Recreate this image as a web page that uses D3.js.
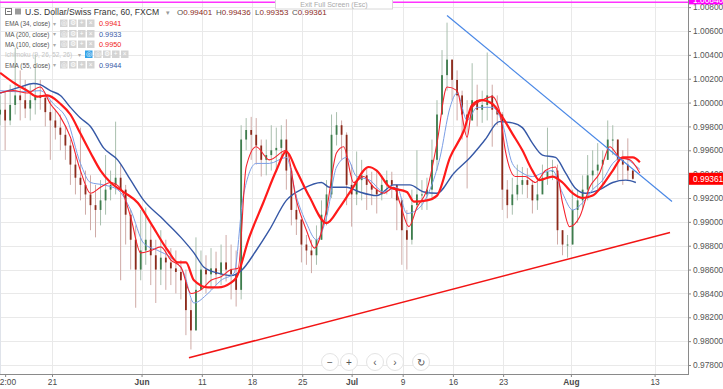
<!DOCTYPE html>
<html>
<head>
<meta charset="utf-8">
<script src="https://cdn.jsdelivr.net/npm/d3@7"></script>
<style>
  body { margin: 0; background: #fff; overflow: hidden; }
  svg { display: block; font-family: Arial, "Liberation Sans", sans-serif; }
</style>
</head>
<body>
<svg id="chart" width="723" height="389"></svg>
<script>
// USD/CHF, FXCM. One candle per 12 trading hours, first one 124 trading hours before May 21.
const firstHour = -124
const slotHours = 12
const firstOpen = 0.9990

const closes = [
  0.9994, 0.9985, 0.9998, 1.0006, 1.0002, 0.9995, 1.0002, 1.0006, 1.0004, 0.9992,
  0.9985, 0.9979, 0.9973, 0.9964, 0.9948, 0.9937, 0.9931, 0.9923, 0.9914, 0.9910,
  0.9918, 0.9927, 0.9931, 0.9937, 0.9927, 0.9906, 0.9885, 0.9860, 0.9876, 0.9885,
  0.9872, 0.9860, 0.9870, 0.9866, 0.9861, 0.9858, 0.9851, 0.9826, 0.9809, 0.9843,
  0.9860, 0.9856, 0.9861, 0.9856, 0.9866, 0.9860, 0.9856, 0.9843, 0.9969, 0.9977,
  0.9973, 0.9964, 0.9952, 0.9956, 0.9960, 0.9962, 0.9969, 0.9943, 0.9910, 0.9902,
  0.9881, 0.9876, 0.9872, 0.9885, 0.9906, 0.9923, 0.9973, 0.9981, 0.9973, 0.9931,
  0.9923, 0.9935, 0.9939, 0.9931, 0.9927, 0.9923, 0.9931, 0.9935, 0.9931, 0.9918,
  0.9893, 0.9885, 0.9914, 0.9923, 0.9923, 0.9927, 0.9952, 0.9990, 1.0023, 1.0036,
  1.0019, 1.0006, 0.9990, 0.9985, 1.0002, 0.9994, 0.9998, 1.0006, 0.9994, 0.9990,
  0.9927, 0.9914, 0.9923, 0.9931, 0.9935, 0.9931, 0.9918, 0.9923, 0.9937, 0.9942,
  0.9943, 0.9893, 0.9881, 0.9881, 0.9910, 0.9918, 0.9927, 0.9939, 0.9943, 0.9948,
  0.9952, 0.9969, 0.9969, 0.9952, 0.9948, 0.9943, 0.99361
]
const highs = [
  1.0006, 1.0010, 1.0015, 1.0046, 1.0027, 1.0019, 1.0015, 1.0040, 1.0019, 1.0006,
  1.0002, 0.9994, 0.9990, 0.9981, 0.9969, 0.9956, 0.9979, 0.9943, 0.9939, 0.9931,
  0.9935, 0.9956, 0.9943, 0.9984, 0.9948, 0.9931, 0.9910, 0.9897, 0.9910, 0.9912,
  0.9897, 0.9885, 0.9893, 0.9885, 0.9878, 0.9876, 0.9868, 0.9860, 0.9835, 0.9887,
  0.9876, 0.9872, 0.9878, 0.9875, 0.9881, 0.9889, 0.9881, 0.9876, 0.9981, 0.9987,
  0.9988, 0.9987, 0.9969, 0.9969, 0.9981, 0.9979, 0.9981, 0.9986, 0.9945, 0.9923,
  0.9902, 0.9889, 0.9885, 0.9897, 0.9918, 0.9935, 0.9990, 0.9992, 0.9985, 0.9975,
  0.9948, 0.9959, 0.9952, 0.9945, 0.9942, 0.9943, 0.9939, 0.9943, 0.9942, 0.9931,
  0.9920, 0.9910, 0.9927, 0.9960, 0.9935, 0.9937, 0.9969, 1.0002, 1.0044, 1.0067,
  1.0036, 1.0027, 1.0010, 1.0002, 1.0033, 1.0015, 1.0010, 1.0042, 1.0015, 1.0006,
  0.9992, 0.9935, 0.9937, 0.9948, 0.9946, 0.9945, 0.9935, 0.9935, 0.9948, 0.9979,
  0.9952, 0.9948, 0.9893, 0.9889, 0.9927, 0.9927, 0.9939, 0.9956, 0.9960, 0.9966,
  0.9960, 0.9985, 0.9981, 0.9969, 0.9960, 0.9970, 0.99436
]
const lows = [
  0.9981, 0.9960, 0.9981, 0.9990, 0.9985, 0.9987, 0.9985, 0.9990, 0.9994, 0.9980,
  0.9952, 0.9969, 0.9960, 0.9952, 0.9931, 0.9923, 0.9918, 0.9906, 0.9893, 0.9887,
  0.9897, 0.9906, 0.9918, 0.9923, 0.9851, 0.9881, 0.9860, 0.9828, 0.9851, 0.9864,
  0.9847, 0.9832, 0.9847, 0.9843, 0.9847, 0.9840, 0.9835, 0.9805, 0.9793, 0.9809,
  0.9843, 0.9840, 0.9843, 0.9847, 0.9847, 0.9850, 0.9835, 0.9829, 0.9835, 0.9960,
  0.9952, 0.9948, 0.9938, 0.9939, 0.9943, 0.9942, 0.9952, 0.9927, 0.9897, 0.9889,
  0.9866, 0.9864, 0.9857, 0.9864, 0.9885, 0.9897, 0.9920, 0.9964, 0.9952, 0.9914,
  0.9896, 0.9914, 0.9918, 0.9910, 0.9914, 0.9907, 0.9918, 0.9923, 0.9920, 0.9893,
  0.9864, 0.9860, 0.9881, 0.9910, 0.9910, 0.9910, 0.9918, 0.9943, 0.9990, 1.0010,
  1.0002, 0.9985, 0.9969, 0.9928, 0.9985, 0.9980, 0.9983, 0.9985, 0.9963, 0.9981,
  0.9910, 0.9903, 0.9906, 0.9918, 0.9923, 0.9920, 0.9907, 0.9910, 0.9927, 0.9931,
  0.9935, 0.9881, 0.9872, 0.9870, 0.9881, 0.9899, 0.9910, 0.9918, 0.9927, 0.9927,
  0.9929, 0.9952, 0.9956, 0.9935, 0.9931, 0.9935, 0.99353
]

// indicator lines: position in candle slots, value
const ma200At = [0, 4, 6.6, 8, 10, 12, 14, 16, 18, 20.6, 23.4, 26, 28.6, 32, 36, 38.6, 40.6, 43.4, 46, 48, 51, 53.6, 57, 60.4, 64, 65.6, 69, 71.6, 75, 78.4, 81.6, 84.4, 87, 90.4, 93.6, 96.6, 99.4, 102, 104, 106, 108, 110.6, 112.6, 114.6, 116.6, 119.4, 122, 124.6, 126.6]
const ma200 = [1.0008, 1.0013, 1.0016, 1.0015, 1.0010, 1.0006, 0.9996, 0.9987, 0.9980, 0.9962, 0.9952, 0.9935, 0.9918, 0.9904, 0.9887, 0.9874, 0.9862, 0.9857, 0.9855, 0.9859, 0.9876, 0.9893, 0.9918, 0.9928, 0.9933, 0.9929, 0.9929, 0.9925, 0.9922, 0.9931, 0.9931, 0.9925, 0.9924, 0.9941, 0.9954, 0.9969, 0.9984, 0.9983, 0.9979, 0.9966, 0.9956, 0.9954, 0.9941, 0.9928, 0.9924, 0.9927, 0.9933, 0.9935, 0.9933]

const ma100At = [0, 2.6, 5.4, 7.4, 9.4, 12, 14, 16, 18, 20, 22, 24.6, 27.4, 30, 33.4, 35.4, 37, 38.6, 41.4, 43.4, 46, 47, 49.6, 52.4, 55, 57, 59, 61.6, 65, 67.6, 70, 73.4, 75, 77.6, 81, 82.4, 85, 87, 89.6, 92.4, 94, 96, 98, 100, 102, 104, 106, 107.4, 110, 112, 114, 116, 118, 120, 122, 124, 126, 127.4]
const ma100 = [1.0025, 1.0017, 1.0010, 1.0005, 1.0006, 0.9999, 0.9990, 0.9974, 0.9958, 0.9943, 0.9933, 0.9925, 0.9916, 0.9899, 0.9876, 0.9866, 0.9866, 0.9851, 0.9845, 0.9845, 0.9849, 0.9853, 0.9887, 0.9916, 0.9943, 0.9959, 0.9943, 0.9921, 0.9899, 0.9912, 0.9927, 0.9946, 0.9943, 0.9929, 0.9925, 0.9917, 0.9918, 0.9922, 0.9954, 0.9977, 0.9998, 1.0002, 0.9999, 0.9988, 0.9974, 0.9960, 0.9943, 0.9935, 0.9938, 0.9933, 0.9924, 0.9920, 0.9922, 0.9931, 0.9943, 0.9954, 0.9954, 0.9950]

const ema34At = [0, 2.6, 5.4, 8, 10, 12, 14, 16, 18, 20, 22, 24, 26, 28, 30, 32, 34, 36, 38, 40, 42, 44, 46, 47.4, 49, 51, 53.6, 57, 59, 61, 62.6, 65, 67, 68.4, 70.4, 72.4, 74.4, 76.4, 78.4, 79.6, 81.4, 83, 85, 87, 89, 91, 93, 94, 96, 98, 99.4, 100.6, 102.6, 104.6, 106.6, 108.6, 110.6, 112, 113.4, 115.4, 117.4, 119.4, 121.4, 123.4, 125.4, 127.4]
const ema34 = [1.0008, 1.0010, 1.0008, 1.0013, 0.9999, 0.9988, 0.9971, 0.9943, 0.9924, 0.9929, 0.9933, 0.9928, 0.9904, 0.9874, 0.9876, 0.9879, 0.9868, 0.9862, 0.9840, 0.9843, 0.9851, 0.9854, 0.9860, 0.9861, 0.9946, 0.9963, 0.9952, 0.9960, 0.9918, 0.9893, 0.9878, 0.9910, 0.9958, 0.9963, 0.9933, 0.9938, 0.9929, 0.9924, 0.9929, 0.9916, 0.9896, 0.9912, 0.9927, 0.9966, 1.0013, 1.0010, 0.9971, 0.9996, 1.0002, 1.0005, 0.9994, 0.9960, 0.9938, 0.9938, 0.9933, 0.9943, 0.9946, 0.9916, 0.9896, 0.9904, 0.9929, 0.9941, 0.9963, 0.9954, 0.9952, 0.9941]

const ema55At = [0, 4, 8, 10.6, 13.4, 16, 18, 20.6, 23.4, 26, 28.6, 31.4, 34, 36.6, 38.6, 41.4, 44, 46.6, 48.4, 51, 53.6, 57, 59, 61, 63, 65, 67, 69, 71, 73.6, 76.4, 79, 81, 83, 85.6, 87.6, 89.6, 91, 93, 95, 98, 100, 102, 104, 106, 108, 110, 112, 114, 116, 118, 120, 122, 124, 126, 127.4]
const ema55 = [1.0010, 1.0009, 1.0010, 0.9999, 0.9985, 0.9949, 0.9933, 0.9931, 0.9927, 0.9910, 0.9882, 0.9876, 0.9870, 0.9857, 0.9832, 0.9840, 0.9851, 0.9857, 0.9921, 0.9949, 0.9949, 0.9954, 0.9921, 0.9899, 0.9885, 0.9904, 0.9946, 0.9954, 0.9938, 0.9935, 0.9925, 0.9929, 0.9907, 0.9910, 0.9927, 0.9954, 0.9996, 1.0008, 0.9985, 0.9996, 0.9996, 0.9983, 0.9949, 0.9941, 0.9938, 0.9941, 0.9943, 0.9924, 0.9910, 0.9916, 0.9927, 0.9935, 0.9949, 0.9954, 0.9949, 0.9944]

// hand drawn trend lines: [slot, price] end points
const resistanceLine = [[89, 1.0073], [133.8, 0.9917]]
const supportLine = [[37.6, 0.9786], [133.4, 0.9891]]
const alertPrice = 1.0084

const priceTicks = [0.978, 0.980, 0.982, 0.984, 0.986, 0.988, 0.990, 0.992, 0.994, 0.996, 0.998, 1.000, 1.002, 1.004, 1.006, 1.008]
const timeTickLabels = ['12:00', '21', 'Jun', '11', '18', '25', 'Jul', '9', '16', '23', 'Aug', '13']
const timeTickHours = [-112, 0, 214, 358, 478, 598, 716, 838, 958, 1078, 1240, 1440]
const monthLabels = ['Jun', 'Jul', 'Aug']

const legendRows = [
  { name: 'EMA (34, close)', value: '0.9941', color: '#f01d1d' },
  { name: 'MA (200, close)', value: '0.9933', color: '#3658a6' },
  { name: 'MA (100, close)', value: '0.9950', color: '#f01d1d' },
  { name: 'Ichimoku (9, 26, 52, 26)', value: '', color: '#ccc', hidden: true },
  { name: 'EMA (55, close)', value: '0.9944', color: '#3658a6' }
]
const ohlc = [['O', '0.99401'], ['H', '0.99436'], ['L', '0.99353'], ['C', '0.99361']]

const plotRight = 688
const plotBottom = 374
const svg = d3.select('#chart')

const x = d3.scaleLinear().domain([0, 1440]).range([52, 654.6])
const y = d3.scaleLinear().domain([0.978, 1.006]).range([365, 31])
const slotX = s => x(firstHour + slotHours * s)

svg.append('defs').append('clipPath').attr('id', 'plot')
  .append('rect').attr('x', 0).attr('y', 0).attr('width', plotRight).attr('height', plotBottom)

// grid
const grid = svg.append('g')
grid.selectAll('line.hg').data(priceTicks).enter().append('line')
  .attr('x1', 0).attr('x2', plotRight)
  .attr('y1', d => Math.round(y(d)) + 0.5).attr('y2', d => Math.round(y(d)) + 0.5)
  .attr('stroke', '#e9e9e9')
grid.selectAll('line.vg').data(timeTickHours.slice(1)).enter().append('line')
  .attr('y1', 0).attr('y2', plotBottom)
  .attr('x1', d => Math.round(x(d)) + 0.5).attr('x2', d => Math.round(x(d)) + 0.5)
  .attr('stroke', '#e9e9e9')
svg.append('line').attr('x1', 0.5).attr('x2', 0.5).attr('y1', 0).attr('y2', plotBottom)
  .attr('stroke', '#dfe3ea')

const plot = svg.append('g').attr('clip-path', 'url(#plot)')

// candles
const candles = closes.map((c, i) => ({
  i, c, h: highs[i], l: lows[i], o: i === 0 ? firstOpen : closes[i - 1]
}))
const cg = plot.append('g')
cg.selectAll('line.wick').data(candles).enter().append('line')
  .attr('x1', d => slotX(d.i)).attr('x2', d => slotX(d.i))
  .attr('y1', d => y(d.h)).attr('y2', d => y(d.l))
  .attr('stroke', d => d.c >= d.o ? '#a9bfae' : '#cfaaa6').attr('stroke-width', 1)
cg.selectAll('rect.body').data(candles).enter().append('rect')
  .attr('x', d => slotX(d.i) - 0.9).attr('width', 1.8)
  .attr('y', d => y(Math.max(d.o, d.c)))
  .attr('height', d => Math.max(1, Math.abs(y(d.o) - y(d.c))))
  .attr('fill', d => d.c >= d.o ? '#3e7d4d' : '#8c2a1b')

// moving averages
const lineGen = d3.line().x(d => slotX(d[0])).y(d => y(d[1])).curve(d3.curveMonotoneX)
const zip = (a, b) => a.map((v, k) => [v, b[k]])
const drawLine = (pts, color, width) => plot.append('path').datum(pts)
  .attr('d', lineGen).attr('fill', 'none').attr('stroke', color)
  .attr('stroke-width', width).attr('stroke-linejoin', 'round')

drawLine(zip(ma200At, ma200), '#3658a6', 1.4)
drawLine(zip(ema55At, ema55), '#7b9ee6', 1)
drawLine(zip(ema34At, ema34), '#f5222d', 1.1)
drawLine(zip(ma100At, ma100), '#ff1a1a', 2.2)

// trend lines
plot.append('path').datum(resistanceLine)
  .attr('d', d3.line().x(d => slotX(d[0])).y(d => y(d[1])))
  .attr('stroke', '#4a88e6').attr('stroke-width', 1.2).attr('fill', 'none')
plot.append('path').datum(supportLine)
  .attr('d', d3.line().x(d => slotX(d[0])).y(d => y(d[1])))
  .attr('stroke', '#f21414').attr('stroke-width', 1.5).attr('fill', 'none')
plot.append('line').attr('x1', 0).attr('x2', plotRight)
  .attr('y1', y(alertPrice)).attr('y2', y(alertPrice))
  .attr('stroke', '#ff33ff').attr('stroke-width', 1.5)

// price axis
const yAxis = svg.append('g').attr('transform', `translate(${plotRight},0)`)
  .call(d3.axisRight(y).tickValues(priceTicks).tickFormat(d3.format('.5f')).tickSize(3).tickPadding(2))
yAxis.select('.domain').remove()
yAxis.selectAll('line').attr('stroke', '#888')
yAxis.selectAll('text').attr('fill', '#555').attr('font-size', 8.4)
  .attr('font-family', 'Arial, "Liberation Sans", sans-serif')
svg.append('line').attr('x1', plotRight + 0.5).attr('x2', plotRight + 0.5)
  .attr('y1', 0).attr('y2', plotBottom).attr('stroke', '#8a8a8a')

// last price and alert labels
const lastPrice = closes[closes.length - 1]
svg.append('rect').attr('x', plotRight + 1).attr('y', y(lastPrice) - 6)
  .attr('width', 35).attr('height', 12).attr('fill', '#ff0000')
svg.append('text').attr('x', plotRight + 5).attr('y', y(lastPrice) + 3)
  .attr('font-size', 8.4).attr('fill', '#fff').text(d3.format('.5f')(lastPrice))
svg.append('rect').attr('x', plotRight + 1).attr('y', y(alertPrice) - 8)
  .attr('width', 35).attr('height', 10).attr('fill', '#ff00ff')
svg.append('text').attr('x', plotRight + 5).attr('y', y(alertPrice) + 1)
  .attr('font-size', 8.4).attr('fill', '#fff').text(d3.format('.5f')(alertPrice))

// time axis
const xAxis = svg.append('g').attr('transform', `translate(0,${plotBottom})`)
  .call(d3.axisBottom(x).tickValues(timeTickHours).tickFormat((d, k) => timeTickLabels[k]).tickSize(3).tickPadding(2))
xAxis.select('.domain').remove()
xAxis.selectAll('line').attr('stroke', '#888')
xAxis.selectAll('text').attr('fill', '#4a4a4a').attr('font-size', 8.4)
  .attr('font-family', 'Arial, "Liberation Sans", sans-serif')
  .attr('font-weight', (d, k) => monthLabels.includes(timeTickLabels[k]) ? 'bold' : 'normal')
svg.append('line').attr('x1', 0).attr('x2', plotRight + 1)
  .attr('y1', plotBottom + 0.5).attr('y2', plotBottom + 0.5).attr('stroke', '#8a8a8a')

// zoom / scroll buttons
const buttons = [[330, '\u2212'], [349, '+'], [375, '\u2039'], [395, '\u203a'], [421, '\u21bb']]
const bg = svg.append('g')
buttons.forEach(([bx, glyph]) => {
  bg.append('circle').attr('cx', bx).attr('cy', 362).attr('r', 8.5)
    .attr('fill', '#fff').attr('stroke', '#e4e4e4')
  bg.append('text').attr('x', bx).attr('y', 365.5).attr('text-anchor', 'middle')
    .attr('font-size', 10).attr('fill', '#555').text(glyph)
})

// header legend
const lg = svg.append('g')
lg.append('rect').attr('x', 5.5).attr('y', 8.5).attr('width', 6).attr('height', 6)
  .attr('fill', 'none').attr('stroke', '#777')
lg.append('line').attr('x1', 7).attr('x2', 10.5).attr('y1', 11.5).attr('y2', 11.5).attr('stroke', '#777')
lg.append('rect').attr('x', 15).attr('y', 8.5).attr('width', 6).attr('height', 6).attr('fill', '#999')
lg.append('text').attr('x', 25).attr('y', 15).attr('font-size', 8.6).attr('fill', '#333')
  .text('U.S. Dollar/Swiss Franc, 60, FXCM')
lg.append('text').attr('x', 166).attr('y', 14.5).attr('font-size', 7).attr('fill', '#999').text('\u25be')
const ohlcX = [177, 216, 255, 292]
ohlc.forEach(([k, v], j) => {
  const t = lg.append('text').attr('x', ohlcX[j]).attr('y', 15).attr('font-size', 8)
  t.append('tspan').attr('fill', '#555').text(k)
  t.append('tspan').attr('fill', '#8b2b24').text(v)
})

const rowY = [26, 36.5, 47, 57, 67.5]
const iconGlyphs = ['\u25ce', '\u2699', '+', '\u00d7']
legendRows.forEach((row, r) => {
  const ry = rowY[r]
  lg.append('text').attr('x', 5).attr('y', ry).attr('font-size', 6.4)
    .attr('fill', row.hidden ? '#c4c4c4' : '#555').text(row.name)
  const ix = row.hidden ? 85 : 60
  lg.append('text').attr('x', ix - 7).attr('y', ry - 0.5).attr('font-size', 6).attr('fill', '#aaa').text('\u25be')
  const glyphs = row.hidden ? ['\u25ce'].concat(iconGlyphs) : iconGlyphs
  glyphs.forEach((g, k) => {
    const gx = ix + k * 9
    lg.append('rect').attr('x', gx).attr('y', ry - 6.5).attr('width', 7.5).attr('height', 7.5)
      .attr('fill', row.hidden && k === 0 ? '#35a3e8' : '#d4d4d4')
    lg.append('text').attr('x', gx + 3.75).attr('y', ry - 0.6).attr('text-anchor', 'middle')
      .attr('font-size', 6.5).attr('fill', '#fff').text(g)
  })
  if (row.value) {
    lg.append('text').attr('x', 99).attr('y', ry).attr('font-size', 7.3)
      .attr('fill', row.color).text(row.value)
  }
})

// full screen hint
svg.append('rect').attr('x', 275.5).attr('y', -1).attr('width', 117).attr('height', 10)
  .attr('fill', '#fff').attr('stroke', '#d8d8d8')
svg.append('text').attr('x', 334).attr('y', 6.5).attr('text-anchor', 'middle')
  .attr('font-size', 7).attr('fill', '#aaa').text('Exit Full Screen (Esc)')
</script>
</body>
</html>
